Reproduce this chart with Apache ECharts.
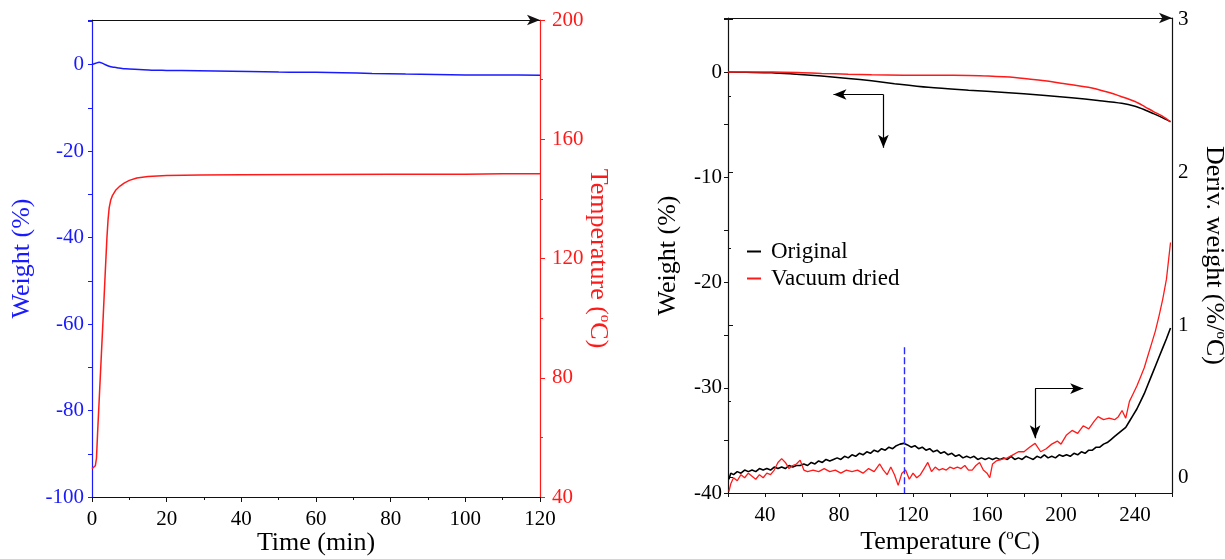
<!DOCTYPE html>
<html><head><meta charset="utf-8">
<script src="https://cdn.jsdelivr.net/npm/echarts@6/dist/echarts.min.js"></script>
<style>html,body{margin:0;padding:0;background:#fff}#c{width:1225px;height:559px}</style>
</head><body><div id="c"></div><script>
// ---------- Left panel: isothermal run ----------
const weightTime = [0, 1, 1.9, 3, 4.6, 6, 7.2, 9, 12.6, 16, 20, 24, 33, 42, 50, 55.6, 60, 67, 75, 84, 92, 100, 110, 120];
const weightPct  = [0, 0.3, 0.55, 0.2, -0.4, -0.65, -0.8, -1.0, -1.15, -1.3, -1.35, -1.4, -1.5, -1.62, -1.75, -1.78, -1.8, -1.9, -2.05, -2.2, -2.3, -2.4, -2.42, -2.45];
const tempTime = [0, 0.5, 0.9, 1.2, 1.5, 2, 2.5, 3, 3.5, 4, 4.3, 4.6, 5, 5.5, 6.4, 7.5, 8.6, 10, 12, 15, 20, 29, 40, 60, 80, 100, 110, 120];
const tempC    = [49.5, 49.8, 50.5, 53, 61.5, 74.5, 87.5, 100.5, 114, 127, 133, 137, 139.5, 141.2, 143, 144.3, 145.3, 146.2, 147, 147.5, 147.8, 148, 148.1, 148.2, 148.3, 148.3, 148.4, 148.4];

// ---------- Right panel: TGA ramp ----------
const origT = [20, 30, 43.6, 55, 70.6, 85, 97.6, 110, 128.3, 150, 169.7, 190, 205.7, 220, 232.8, 240, 245.4, 250, 255, 259.2];
const origW = [0, -0.02, -0.06, -0.18, -0.38, -0.6, -0.83, -1.1, -1.45, -1.72, -1.93, -2.2, -2.44, -2.7, -2.97, -3.25, -3.6, -3.95, -4.35, -4.72];
const dryT = [20, 44, 60, 70.6, 85, 97.6, 115, 133.7, 150, 160.7, 175, 187.7, 200, 214.8, 225, 232.8, 240, 245.4, 250, 255, 259.2];
const dryW = [0, 0, -0.06, -0.13, -0.2, -0.25, -0.29, -0.3, -0.33, -0.38, -0.52, -0.76, -1.05, -1.45, -1.9, -2.34, -2.8, -3.3, -3.75, -4.2, -4.72];
const origDeriv = [[20.5,-0.01],[21.5,0.03],[23,0.02],[25,0.04],[27,0.03],[29,0.05],[31,0.04],[33,0.05],[35,0.04],[37,0.06],[39,0.05],[41,0.06],[43,0.05],[45,0.07],[47,0.06],[49,0.07],[51,0.06],[53,0.08],[55,0.07],[57,0.08],[59,0.08],[61,0.09],[63,0.08],[65,0.1],[67,0.09],[69,0.11],[71,0.1],[73,0.12],[75,0.11],[77,0.12],[79,0.13],[81,0.12],[83,0.14],[85,0.13],[87,0.15],[89,0.14],[91,0.16],[93,0.15],[95,0.17],[97,0.16],[99,0.18],[101,0.17],[103,0.19],[105,0.18],[107,0.2],[109,0.19],[111,0.21],[113,0.22],[115,0.225],[117,0.215],[119,0.2],[121,0.21],[123,0.19],[125,0.2],[127,0.18],[129,0.19],[131,0.17],[133,0.18],[135,0.16],[137,0.17],[139,0.15],[141,0.16],[143,0.14],[145,0.15],[147,0.13],[149,0.14],[151,0.13],[153,0.14],[155,0.12],[157,0.13],[159,0.12],[161,0.13],[163,0.12],[165,0.13],[167,0.12],[169,0.13],[171,0.12],[173,0.14],[175,0.12],[177,0.13],[179,0.12],[181,0.14],[183,0.13],[185,0.12],[187,0.14],[189,0.13],[191,0.15],[193,0.13],[195,0.14],[197,0.13],[199,0.15],[201,0.14],[203,0.15],[205,0.14],[207,0.16],[209,0.15],[211,0.17],[213,0.16],[215,0.18],[217,0.18],[219,0.2],[221,0.2],[223,0.22],[225,0.23],[227,0.25],[229,0.27],[231,0.29],[233,0.31],[235,0.33],[237,0.37],[239,0.41],[241,0.45],[243,0.5],[245,0.55],[247,0.61],[249,0.67],[251,0.73],[253,0.79],[255,0.85],[257,0.91],[259.2,0.98]];
const dryDeriv = [[20.5,-0.09],[21.5,-0.04],[23,0.0],[25,-0.02],[27,0.02],[29,0.0],[31,0.03],[33,0.01],[35,-0.01],[37,0.02],[39,0.0],[41,0.03],[43,0.02],[45,0.05],[47,0.1],[49,0.125],[51,0.1],[53,0.06],[55,0.08],[57,0.09],[59,0.115],[61,0.05],[63,0.04],[66,0.05],[69,0.04],[72,0.06],[75,0.04],[78,0.05],[81,0.03],[84,0.05],[87,0.04],[90,0.05],[93,0.03],[96,0.06],[99,0.04],[102,0.09],[104,0.05],[106,0.02],[108,0.07],[110,0.02],[112,-0.05],[114,0.03],[116,0.05],[118,-0.01],[120,0.03],[122,0.0],[124,0.02],[126,0.06],[128,0.1],[130,0.04],[132,0.07],[134,0.05],[136,0.06],[138,0.05],[140,0.07],[142,0.06],[144,0.07],[146,0.06],[148,0.08],[150,0.05],[152,0.05],[154,0.08],[156,0.1],[158,0.05],[160,0.03],[161.5,0.0],[163,0.09],[165,0.11],[168,0.12],[171,0.13],[174,0.15],[177,0.17],[180,0.17],[183,0.2],[186,0.225],[189,0.17],[192,0.19],[195,0.22],[198,0.24],[200,0.22],[203,0.28],[206,0.31],[209,0.29],[212,0.34],[215,0.32],[218,0.37],[220,0.4],[223,0.38],[226,0.39],[229,0.38],[231,0.4],[233,0.44],[235,0.39],[237,0.5],[239,0.55],[241,0.6],[243,0.66],[245,0.72],[247,0.8],[249,0.88],[251,0.96],[253,1.06],[255,1.17],[257,1.3],[259.2,1.54]];

// axis extents
const timeMin = 0, timeMax = 120, tempMax = 200;
const rampMin = 20, rampMax = 260, rightWeightMax = 5.14;

// annotation anchors (data coordinates on the weight axis)
const arrowLeft  = {corner: [104, -2.13], xEnd: 77, yEnd: -7.19};
const arrowRight = {corner: [186, -30.08], xEnd: 212, yEnd: -34.8};
const markerT = 115.3, markerTop = -26.14, markerBottom = -40;

const legendNames = ['Original', 'Vacuum dried'];

const zip = (a, b) => a.map((v, i) => [v, b[i]]);
const FONT = '"Liberation Serif","Times New Roman",Times,serif';
const BLUE = '#1a1aff', RED = '#ff1a1a', BLACK = '#111';

function nameStyle(color, extra) {
  return Object.assign({
    fontFamily: FONT, fontSize: 26, color: color, lineHeight: 29,
    rich: { sup: { fontFamily: FONT, fontSize: 15, lineHeight: 15, color: color, verticalAlign: 'top' } }
  }, extra || {});
}
function lbl(color, margin, fmt) {
  const o = { fontFamily: FONT, fontSize: 21, color: color, margin: margin };
  if (fmt) o.formatter = fmt;
  return o;
}
function line(color) {
  return { show: true, onZero: false, lineStyle: { color: color, width: 1.2 } };
}
// plain segment between two data points (no arrow heads)
const seg = (a, b, style) => [
  Object.assign({ coord: a, symbol: 'none' }, style ? { lineStyle: style } : {}),
  { coord: b, symbol: 'none' }
];
// horizontal frame edge at an axis value
const edge = y => ({ yAxis: y, symbol: 'none', symbolSize: 0,
  lineStyle: { color: BLACK, width: 1.2, type: 'solid' } });

const chart = echarts.init(document.getElementById('c'));
chart.setOption({
  animation: false,
  backgroundColor: '#fff',
  textStyle: { fontFamily: FONT },
  grid: [
    { left: 92, top: 20, width: 448, height: 477, outerBoundsMode: 'none', containLabel: false },
    { left: 728, top: 18, width: 444, height: 475, outerBoundsMode: 'none', containLabel: false },
    { left: 728, top: 19.53, width: 444, bottom: 81.27, outerBoundsMode: 'none', containLabel: false }
  ],
  legend: {
    data: legendNames, orient: 'vertical', left: 742, top: 235, itemGap: 4,
    icon: 'rect', itemWidth: 14, itemHeight: 2,
    textStyle: { fontFamily: FONT, fontSize: 23, color: '#000', padding: [0, 0, 0, 5] }
  },
  xAxis: [
    { type: 'value', gridIndex: 0, position: 'bottom', min: timeMin, max: timeMax, interval: 20,
      axisLine: line(BLACK),
      axisTick: { show: true, length: 5, lineStyle: { color: BLACK } },
      minorTick: { show: true, splitNumber: 2, length: 3, lineStyle: { color: BLACK } },
      splitLine: { show: false }, axisLabel: lbl('#000', 12),
      name: 'Time (min)', nameLocation: 'middle', nameGap: 32, nameMoveOverlap: false,
      nameTextStyle: nameStyle('#000') },
    { type: 'value', gridIndex: 1, position: 'bottom', min: rampMin, max: rampMax, interval: 20,
      axisLine: line(BLACK),
      axisTick: { show: true, length: 4, lineStyle: { color: BLACK } },
      splitLine: { show: false },
      axisLabel: lbl('#000', 12, v => (v % 40 === 0 ? String(v) : '')),
      name: 'Temperature ({sup|o}C)', nameLocation: 'middle', nameGap: 35, nameMoveOverlap: false,
      nameTextStyle: nameStyle('#000') },
    { type: 'value', gridIndex: 2, min: 0, max: 1, show: false }
  ],
  yAxis: [
    { type: 'value', gridIndex: 0, position: 'left', min: -100, max: 10.3, interval: 10,
      axisLine: line(BLUE),
      axisTick: { show: true, length: 4, lineStyle: { color: BLUE } },
      splitLine: { show: false },
      axisLabel: lbl(BLUE, 8, v => (v <= 0 && v % 20 === 0 ? String(v) : '')),
      name: 'Weight (%)', nameLocation: 'middle', nameGap: 55, nameMoveOverlap: false,
      nameTextStyle: nameStyle(BLUE) },
    { type: 'value', gridIndex: 0, position: 'right', min: 40, max: tempMax, interval: 40,
      axisLine: line(RED),
      axisTick: { show: true, length: 5, lineStyle: { color: RED } },
      minorTick: { show: true, splitNumber: 2, length: 3, lineStyle: { color: RED } },
      splitLine: { show: false }, axisLabel: lbl(RED, 12),
      name: 'Temperature ({sup|o}C)', nameLocation: 'middle', nameRotate: -90, nameGap: 43, nameMoveOverlap: false,
      nameTextStyle: nameStyle(RED) },
    { type: 'value', gridIndex: 1, position: 'left', min: -40, max: rightWeightMax, interval: 5,
      axisLine: line(BLACK),
      axisTick: { show: true, length: 4, lineStyle: { color: BLACK } },
      splitLine: { show: false },
      axisLabel: lbl('#000', 6, v => (v <= 0 && v % 10 === 0 ? String(v) : '')),
      name: 'Weight (%)', nameLocation: 'middle', nameGap: 45, nameMoveOverlap: false,
      nameTextStyle: nameStyle('#000') },
    { type: 'value', gridIndex: 1, position: 'right', min: -0.1, max: 3.01,
      axisLine: line(BLACK),
      axisTick: { show: false }, axisLabel: { show: false }, splitLine: { show: false },
      name: 'Deriv. weight (%/{sup|o}C)', nameLocation: 'middle', nameRotate: -90, nameGap: 27, nameMoveOverlap: false,
      nameTextStyle: nameStyle('#000') },
    { type: 'value', gridIndex: 2, position: 'right', min: 0, max: 3, interval: 1,
      axisLine: { show: false },
      axisTick: { show: true, length: 5, lineStyle: { color: BLACK } },
      minorTick: { show: true, splitNumber: 2, length: 3, lineStyle: { color: BLACK } },
      splitLine: { show: false }, axisLabel: lbl('#000', 6) }
  ],
  series: [
    { name: 'Weight', type: 'line', xAxisIndex: 0, yAxisIndex: 0, data: zip(weightTime, weightPct),
      showSymbol: false, smooth: 0.3, lineStyle: { color: BLUE, width: 1.5 }, itemStyle: { color: BLUE } },
    { name: 'Temperature', type: 'line', xAxisIndex: 0, yAxisIndex: 1, data: zip(tempTime, tempC),
      showSymbol: false, smooth: false, clip: false, lineStyle: { color: RED, width: 1.5 }, itemStyle: { color: RED },
      markLine: {
        silent: true, animation: false, label: { show: false },
        symbol: ['none', 'arrow'], symbolSize: [8, 13],
        lineStyle: { color: BLACK, width: 1.2, type: 'solid' },
        data: [ edge(tempMax) ]
      } },
    { name: 'Original', type: 'line', xAxisIndex: 1, yAxisIndex: 2, data: zip(origT, origW),
      showSymbol: false, smooth: 0.3, clip: false, color: '#000', lineStyle: { color: '#000', width: 1.5 }, itemStyle: { color: '#000' },
      markLine: {
        silent: true, animation: false, label: { show: false },
        symbol: ['none', 'arrow'], symbolSize: [8, 13],
        lineStyle: { color: '#000', width: 1.2, type: 'solid' },
        data: [
          edge(rightWeightMax),
          [{ coord: arrowLeft.corner }, { coord: [arrowLeft.xEnd, arrowLeft.corner[1]] }],
          [{ coord: arrowLeft.corner }, { coord: [arrowLeft.corner[0], arrowLeft.yEnd] }],
          [{ coord: arrowRight.corner }, { coord: [arrowRight.xEnd, arrowRight.corner[1]] }],
          [{ coord: arrowRight.corner }, { coord: [arrowRight.corner[0], arrowRight.yEnd] }],
          seg([markerT, markerTop], [markerT, markerBottom], { color: '#2a2aff', type: [7, 3], width: 1.4 })
        ]
      } },
    { name: 'Vacuum dried', type: 'line', xAxisIndex: 1, yAxisIndex: 2, data: zip(dryT, dryW),
      showSymbol: false, smooth: 0.3, color: RED, lineStyle: { color: RED, width: 1.5 }, itemStyle: { color: RED } },
    { name: 'Original', type: 'line', xAxisIndex: 1, yAxisIndex: 3, data: origDeriv,
      showSymbol: false, color: '#000', lineStyle: { color: '#000', width: 1.6 }, itemStyle: { color: '#000' } },
    { name: 'Vacuum dried', type: 'line', xAxisIndex: 1, yAxisIndex: 3, data: dryDeriv,
      showSymbol: false, color: RED, lineStyle: { color: RED, width: 1.3 }, itemStyle: { color: RED } }
  ]
});
</script></body></html>
